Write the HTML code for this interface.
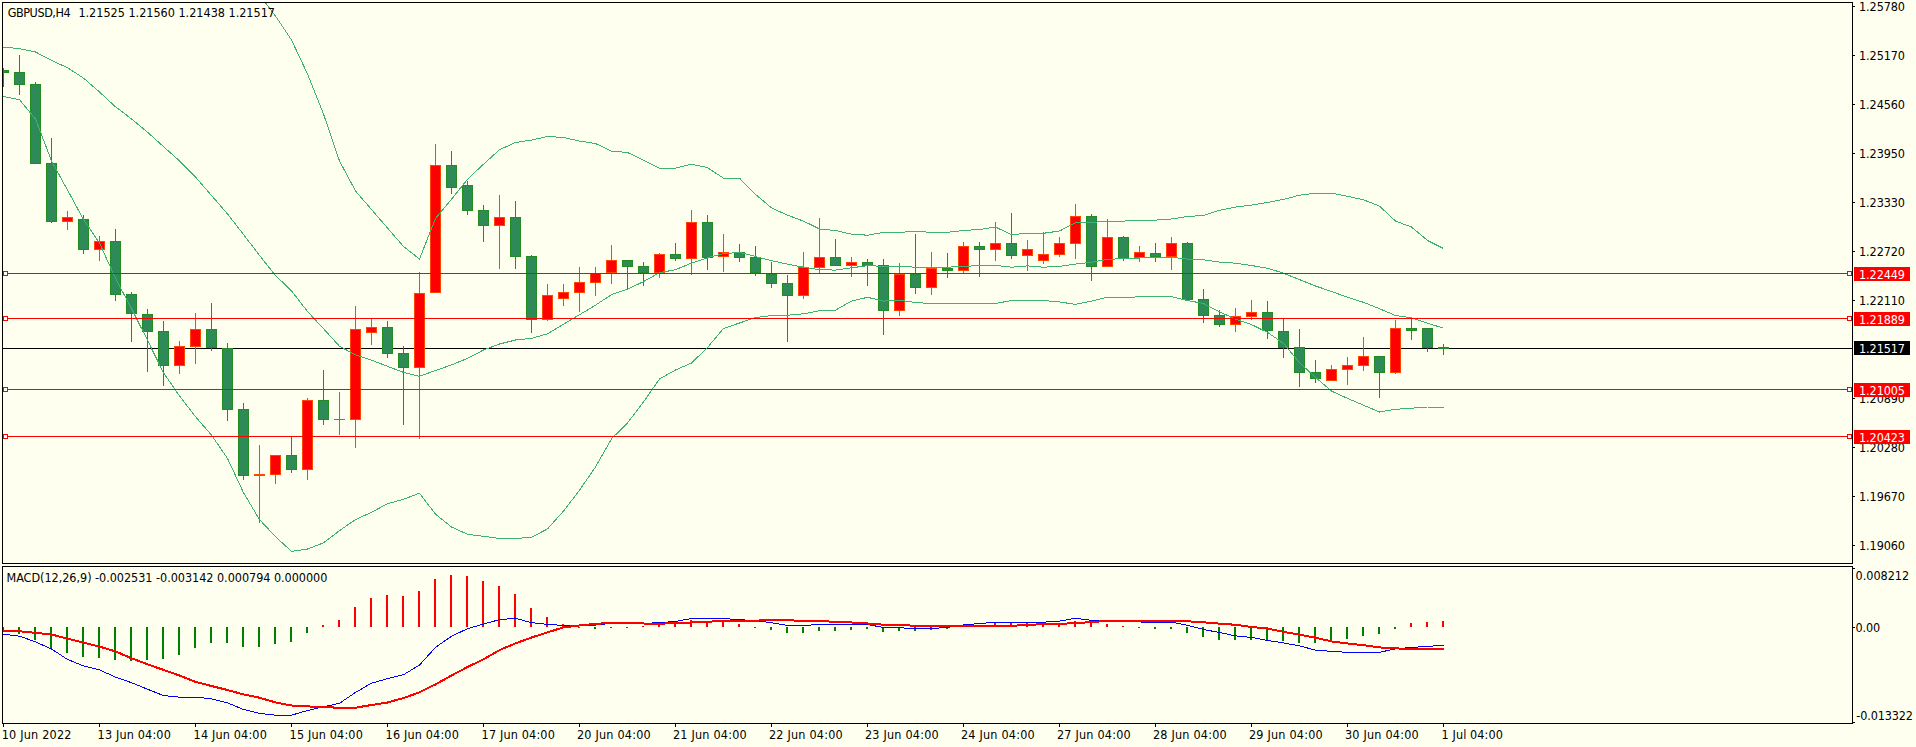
<!DOCTYPE html>
<html><head><meta charset="utf-8"><title>GBPUSD,H4</title>
<style>html,body{margin:0;padding:0;background:#FFFFF0;width:1916px;height:747px;overflow:hidden}</style>
</head><body>
<svg width="1916" height="747" viewBox="0 0 1916 747" style="display:block">
<defs><clipPath id="cm"><rect x="3" y="3" width="1849" height="560"/></clipPath><clipPath id="cd"><rect x="3" y="567" width="1849" height="156"/></clipPath></defs>
<rect x="0" y="0" width="1916" height="747" fill="#FFFFF0"/>
<rect x="3" y="348" width="1849" height="1" fill="#000000" shape-rendering="crispEdges"/>
<g clip-path="url(#cm)" shape-rendering="crispEdges">
<rect x="3" y="68" width="1" height="19" fill="#228B22"/>
<rect x="-2" y="70" width="11" height="3" fill="#228B22"/>
<rect x="-1" y="71" width="9" height="1" fill="#2E8B57"/>
<rect x="19" y="55" width="1" height="40" fill="#228B22"/>
<rect x="14" y="72" width="11" height="13" fill="#228B22"/>
<rect x="15" y="73" width="9" height="11" fill="#2E8B57"/>
<rect x="35" y="82" width="1" height="82" fill="#228B22"/>
<rect x="30" y="84" width="11" height="80" fill="#228B22"/>
<rect x="31" y="85" width="9" height="78" fill="#2E8B57"/>
<rect x="51" y="138" width="1" height="85" fill="#228B22"/>
<rect x="46" y="163" width="11" height="59" fill="#228B22"/>
<rect x="47" y="164" width="9" height="57" fill="#2E8B57"/>
<rect x="67" y="211" width="1" height="19" fill="#FF4500"/>
<rect x="62" y="217" width="11" height="5" fill="#FF4500"/>
<rect x="63" y="218" width="9" height="3" fill="#FF0000"/>
<rect x="83" y="215" width="1" height="39" fill="#228B22"/>
<rect x="78" y="219" width="11" height="31" fill="#228B22"/>
<rect x="79" y="220" width="9" height="29" fill="#2E8B57"/>
<rect x="99" y="236" width="1" height="25" fill="#FF4500"/>
<rect x="94" y="241" width="11" height="9" fill="#FF4500"/>
<rect x="95" y="242" width="9" height="7" fill="#FF0000"/>
<rect x="115" y="229" width="1" height="72" fill="#228B22"/>
<rect x="110" y="241" width="11" height="54" fill="#228B22"/>
<rect x="111" y="242" width="9" height="52" fill="#2E8B57"/>
<rect x="131" y="292" width="1" height="50" fill="#228B22"/>
<rect x="126" y="294" width="11" height="20" fill="#228B22"/>
<rect x="127" y="295" width="9" height="18" fill="#2E8B57"/>
<rect x="147" y="309" width="1" height="63" fill="#228B22"/>
<rect x="142" y="314" width="11" height="18" fill="#228B22"/>
<rect x="143" y="315" width="9" height="16" fill="#2E8B57"/>
<rect x="163" y="321" width="1" height="65" fill="#228B22"/>
<rect x="158" y="331" width="11" height="35" fill="#228B22"/>
<rect x="159" y="332" width="9" height="33" fill="#2E8B57"/>
<rect x="179" y="341" width="1" height="33" fill="#FF4500"/>
<rect x="174" y="346" width="11" height="20" fill="#FF4500"/>
<rect x="175" y="347" width="9" height="18" fill="#FF0000"/>
<rect x="195" y="313" width="1" height="51" fill="#FF4500"/>
<rect x="190" y="329" width="11" height="18" fill="#FF4500"/>
<rect x="191" y="330" width="9" height="16" fill="#FF0000"/>
<rect x="211" y="303" width="1" height="48" fill="#228B22"/>
<rect x="206" y="329" width="11" height="19" fill="#228B22"/>
<rect x="207" y="330" width="9" height="17" fill="#2E8B57"/>
<rect x="227" y="343" width="1" height="78" fill="#228B22"/>
<rect x="222" y="348" width="11" height="62" fill="#228B22"/>
<rect x="223" y="349" width="9" height="60" fill="#2E8B57"/>
<rect x="243" y="403" width="1" height="77" fill="#228B22"/>
<rect x="238" y="409" width="11" height="67" fill="#228B22"/>
<rect x="239" y="410" width="9" height="65" fill="#2E8B57"/>
<rect x="259" y="445" width="1" height="78" fill="#FF4500"/>
<rect x="254" y="474" width="11" height="2" fill="#FF4500"/>
<rect x="275" y="455" width="1" height="29" fill="#FF4500"/>
<rect x="270" y="455" width="11" height="20" fill="#FF4500"/>
<rect x="271" y="456" width="9" height="18" fill="#FF0000"/>
<rect x="291" y="437" width="1" height="36" fill="#228B22"/>
<rect x="286" y="455" width="11" height="15" fill="#228B22"/>
<rect x="287" y="456" width="9" height="13" fill="#2E8B57"/>
<rect x="307" y="398" width="1" height="82" fill="#FF4500"/>
<rect x="302" y="400" width="11" height="70" fill="#FF4500"/>
<rect x="303" y="401" width="9" height="68" fill="#FF0000"/>
<rect x="323" y="370" width="1" height="55" fill="#228B22"/>
<rect x="318" y="400" width="11" height="20" fill="#228B22"/>
<rect x="319" y="401" width="9" height="18" fill="#2E8B57"/>
<rect x="339" y="392" width="1" height="43" fill="#FF4500"/>
<rect x="334" y="419" width="11" height="1" fill="#FF4500"/>
<rect x="355" y="306" width="1" height="142" fill="#FF4500"/>
<rect x="350" y="329" width="11" height="91" fill="#FF4500"/>
<rect x="351" y="330" width="9" height="89" fill="#FF0000"/>
<rect x="371" y="319" width="1" height="26" fill="#FF4500"/>
<rect x="366" y="327" width="11" height="6" fill="#FF4500"/>
<rect x="367" y="328" width="9" height="4" fill="#FF0000"/>
<rect x="387" y="321" width="1" height="37" fill="#228B22"/>
<rect x="382" y="327" width="11" height="27" fill="#228B22"/>
<rect x="383" y="328" width="9" height="25" fill="#2E8B57"/>
<rect x="403" y="346" width="1" height="79" fill="#228B22"/>
<rect x="398" y="353" width="11" height="15" fill="#228B22"/>
<rect x="399" y="354" width="9" height="13" fill="#2E8B57"/>
<rect x="419" y="272" width="1" height="167" fill="#FF4500"/>
<rect x="414" y="293" width="11" height="75" fill="#FF4500"/>
<rect x="415" y="294" width="9" height="73" fill="#FF0000"/>
<rect x="435" y="144" width="1" height="149" fill="#FF4500"/>
<rect x="430" y="165" width="11" height="128" fill="#FF4500"/>
<rect x="431" y="166" width="9" height="126" fill="#FF0000"/>
<rect x="451" y="151" width="1" height="43" fill="#228B22"/>
<rect x="446" y="165" width="11" height="23" fill="#228B22"/>
<rect x="447" y="166" width="9" height="21" fill="#2E8B57"/>
<rect x="467" y="181" width="1" height="34" fill="#228B22"/>
<rect x="462" y="185" width="11" height="26" fill="#228B22"/>
<rect x="463" y="186" width="9" height="24" fill="#2E8B57"/>
<rect x="483" y="205" width="1" height="37" fill="#228B22"/>
<rect x="478" y="210" width="11" height="16" fill="#228B22"/>
<rect x="479" y="211" width="9" height="14" fill="#2E8B57"/>
<rect x="499" y="195" width="1" height="74" fill="#FF4500"/>
<rect x="494" y="217" width="11" height="9" fill="#FF4500"/>
<rect x="495" y="218" width="9" height="7" fill="#FF0000"/>
<rect x="515" y="201" width="1" height="68" fill="#228B22"/>
<rect x="510" y="217" width="11" height="40" fill="#228B22"/>
<rect x="511" y="218" width="9" height="38" fill="#2E8B57"/>
<rect x="531" y="255" width="1" height="78" fill="#228B22"/>
<rect x="526" y="256" width="11" height="64" fill="#228B22"/>
<rect x="527" y="257" width="9" height="62" fill="#2E8B57"/>
<rect x="547" y="284" width="1" height="37" fill="#FF4500"/>
<rect x="542" y="295" width="11" height="25" fill="#FF4500"/>
<rect x="543" y="296" width="9" height="23" fill="#FF0000"/>
<rect x="563" y="284" width="1" height="22" fill="#FF4500"/>
<rect x="558" y="292" width="11" height="7" fill="#FF4500"/>
<rect x="559" y="293" width="9" height="5" fill="#FF0000"/>
<rect x="579" y="267" width="1" height="45" fill="#FF4500"/>
<rect x="574" y="282" width="11" height="11" fill="#FF4500"/>
<rect x="575" y="283" width="9" height="9" fill="#FF0000"/>
<rect x="595" y="267" width="1" height="29" fill="#FF4500"/>
<rect x="590" y="273" width="11" height="10" fill="#FF4500"/>
<rect x="591" y="274" width="9" height="8" fill="#FF0000"/>
<rect x="611" y="245" width="1" height="39" fill="#FF4500"/>
<rect x="606" y="260" width="11" height="13" fill="#FF4500"/>
<rect x="607" y="261" width="9" height="11" fill="#FF0000"/>
<rect x="627" y="260" width="1" height="30" fill="#228B22"/>
<rect x="622" y="260" width="11" height="7" fill="#228B22"/>
<rect x="623" y="261" width="9" height="5" fill="#2E8B57"/>
<rect x="643" y="262" width="1" height="24" fill="#228B22"/>
<rect x="638" y="266" width="11" height="7" fill="#228B22"/>
<rect x="639" y="267" width="9" height="5" fill="#2E8B57"/>
<rect x="659" y="253" width="1" height="25" fill="#FF4500"/>
<rect x="654" y="254" width="11" height="19" fill="#FF4500"/>
<rect x="655" y="255" width="9" height="17" fill="#FF0000"/>
<rect x="675" y="243" width="1" height="18" fill="#228B22"/>
<rect x="670" y="254" width="11" height="5" fill="#228B22"/>
<rect x="671" y="255" width="9" height="3" fill="#2E8B57"/>
<rect x="691" y="210" width="1" height="65" fill="#FF4500"/>
<rect x="686" y="222" width="11" height="37" fill="#FF4500"/>
<rect x="687" y="223" width="9" height="35" fill="#FF0000"/>
<rect x="707" y="215" width="1" height="55" fill="#228B22"/>
<rect x="702" y="222" width="11" height="36" fill="#228B22"/>
<rect x="703" y="223" width="9" height="34" fill="#2E8B57"/>
<rect x="723" y="234" width="1" height="38" fill="#FF4500"/>
<rect x="718" y="252" width="11" height="5" fill="#FF4500"/>
<rect x="719" y="253" width="9" height="3" fill="#FF0000"/>
<rect x="739" y="244" width="1" height="18" fill="#228B22"/>
<rect x="734" y="252" width="11" height="6" fill="#228B22"/>
<rect x="735" y="253" width="9" height="4" fill="#2E8B57"/>
<rect x="755" y="246" width="1" height="30" fill="#228B22"/>
<rect x="750" y="257" width="11" height="16" fill="#228B22"/>
<rect x="751" y="258" width="9" height="14" fill="#2E8B57"/>
<rect x="771" y="262" width="1" height="26" fill="#228B22"/>
<rect x="766" y="274" width="11" height="10" fill="#228B22"/>
<rect x="767" y="275" width="9" height="8" fill="#2E8B57"/>
<rect x="787" y="275" width="1" height="67" fill="#228B22"/>
<rect x="782" y="283" width="11" height="13" fill="#228B22"/>
<rect x="783" y="284" width="9" height="11" fill="#2E8B57"/>
<rect x="803" y="252" width="1" height="47" fill="#FF4500"/>
<rect x="798" y="267" width="11" height="29" fill="#FF4500"/>
<rect x="799" y="268" width="9" height="27" fill="#FF0000"/>
<rect x="819" y="218" width="1" height="55" fill="#FF4500"/>
<rect x="814" y="257" width="11" height="11" fill="#FF4500"/>
<rect x="815" y="258" width="9" height="9" fill="#FF0000"/>
<rect x="835" y="239" width="1" height="27" fill="#228B22"/>
<rect x="830" y="257" width="11" height="9" fill="#228B22"/>
<rect x="831" y="258" width="9" height="7" fill="#2E8B57"/>
<rect x="851" y="257" width="1" height="20" fill="#FF4500"/>
<rect x="846" y="262" width="11" height="4" fill="#FF4500"/>
<rect x="847" y="263" width="9" height="2" fill="#FF0000"/>
<rect x="867" y="259" width="1" height="27" fill="#228B22"/>
<rect x="862" y="262" width="11" height="4" fill="#228B22"/>
<rect x="863" y="263" width="9" height="2" fill="#2E8B57"/>
<rect x="883" y="259" width="1" height="76" fill="#228B22"/>
<rect x="878" y="265" width="11" height="46" fill="#228B22"/>
<rect x="879" y="266" width="9" height="44" fill="#2E8B57"/>
<rect x="899" y="263" width="1" height="53" fill="#FF4500"/>
<rect x="894" y="274" width="11" height="37" fill="#FF4500"/>
<rect x="895" y="275" width="9" height="35" fill="#FF0000"/>
<rect x="915" y="234" width="1" height="60" fill="#228B22"/>
<rect x="910" y="274" width="11" height="14" fill="#228B22"/>
<rect x="911" y="275" width="9" height="12" fill="#2E8B57"/>
<rect x="931" y="252" width="1" height="43" fill="#FF4500"/>
<rect x="926" y="268" width="11" height="20" fill="#FF4500"/>
<rect x="927" y="269" width="9" height="18" fill="#FF0000"/>
<rect x="947" y="253" width="1" height="25" fill="#228B22"/>
<rect x="942" y="268" width="11" height="3" fill="#228B22"/>
<rect x="943" y="269" width="9" height="1" fill="#2E8B57"/>
<rect x="963" y="242" width="1" height="31" fill="#FF4500"/>
<rect x="958" y="246" width="11" height="25" fill="#FF4500"/>
<rect x="959" y="247" width="9" height="23" fill="#FF0000"/>
<rect x="979" y="242" width="1" height="35" fill="#228B22"/>
<rect x="974" y="246" width="11" height="4" fill="#228B22"/>
<rect x="975" y="247" width="9" height="2" fill="#2E8B57"/>
<rect x="995" y="222" width="1" height="39" fill="#FF4500"/>
<rect x="990" y="243" width="11" height="7" fill="#FF4500"/>
<rect x="991" y="244" width="9" height="5" fill="#FF0000"/>
<rect x="1011" y="213" width="1" height="46" fill="#228B22"/>
<rect x="1006" y="243" width="11" height="13" fill="#228B22"/>
<rect x="1007" y="244" width="9" height="11" fill="#2E8B57"/>
<rect x="1027" y="240" width="1" height="31" fill="#FF4500"/>
<rect x="1022" y="249" width="11" height="7" fill="#FF4500"/>
<rect x="1023" y="250" width="9" height="5" fill="#FF0000"/>
<rect x="1043" y="232" width="1" height="32" fill="#FF4500"/>
<rect x="1038" y="254" width="11" height="7" fill="#FF4500"/>
<rect x="1039" y="255" width="9" height="5" fill="#FF0000"/>
<rect x="1059" y="237" width="1" height="20" fill="#FF4500"/>
<rect x="1054" y="243" width="11" height="12" fill="#FF4500"/>
<rect x="1055" y="244" width="9" height="10" fill="#FF0000"/>
<rect x="1075" y="204" width="1" height="55" fill="#FF4500"/>
<rect x="1070" y="216" width="11" height="28" fill="#FF4500"/>
<rect x="1071" y="217" width="9" height="26" fill="#FF0000"/>
<rect x="1091" y="214" width="1" height="67" fill="#228B22"/>
<rect x="1086" y="216" width="11" height="51" fill="#228B22"/>
<rect x="1087" y="217" width="9" height="49" fill="#2E8B57"/>
<rect x="1107" y="219" width="1" height="48" fill="#FF4500"/>
<rect x="1102" y="237" width="11" height="30" fill="#FF4500"/>
<rect x="1103" y="238" width="9" height="28" fill="#FF0000"/>
<rect x="1123" y="236" width="1" height="25" fill="#228B22"/>
<rect x="1118" y="237" width="11" height="22" fill="#228B22"/>
<rect x="1119" y="238" width="9" height="20" fill="#2E8B57"/>
<rect x="1139" y="246" width="1" height="16" fill="#FF4500"/>
<rect x="1134" y="252" width="11" height="6" fill="#FF4500"/>
<rect x="1135" y="253" width="9" height="4" fill="#FF0000"/>
<rect x="1155" y="243" width="1" height="19" fill="#228B22"/>
<rect x="1150" y="253" width="11" height="4" fill="#228B22"/>
<rect x="1151" y="254" width="9" height="2" fill="#2E8B57"/>
<rect x="1171" y="237" width="1" height="33" fill="#FF4500"/>
<rect x="1166" y="243" width="11" height="14" fill="#FF4500"/>
<rect x="1167" y="244" width="9" height="12" fill="#FF0000"/>
<rect x="1187" y="242" width="1" height="59" fill="#228B22"/>
<rect x="1182" y="243" width="11" height="57" fill="#228B22"/>
<rect x="1183" y="244" width="9" height="55" fill="#2E8B57"/>
<rect x="1203" y="289" width="1" height="34" fill="#228B22"/>
<rect x="1198" y="299" width="11" height="17" fill="#228B22"/>
<rect x="1199" y="300" width="9" height="15" fill="#2E8B57"/>
<rect x="1219" y="310" width="1" height="17" fill="#228B22"/>
<rect x="1214" y="315" width="11" height="10" fill="#228B22"/>
<rect x="1215" y="316" width="9" height="8" fill="#2E8B57"/>
<rect x="1235" y="308" width="1" height="24" fill="#FF4500"/>
<rect x="1230" y="316" width="11" height="9" fill="#FF4500"/>
<rect x="1231" y="317" width="9" height="7" fill="#FF0000"/>
<rect x="1251" y="300" width="1" height="20" fill="#FF4500"/>
<rect x="1246" y="312" width="11" height="5" fill="#FF4500"/>
<rect x="1247" y="313" width="9" height="3" fill="#FF0000"/>
<rect x="1267" y="301" width="1" height="38" fill="#228B22"/>
<rect x="1262" y="312" width="11" height="19" fill="#228B22"/>
<rect x="1263" y="313" width="9" height="17" fill="#2E8B57"/>
<rect x="1283" y="319" width="1" height="39" fill="#228B22"/>
<rect x="1278" y="331" width="11" height="17" fill="#228B22"/>
<rect x="1279" y="332" width="9" height="15" fill="#2E8B57"/>
<rect x="1299" y="329" width="1" height="58" fill="#228B22"/>
<rect x="1294" y="347" width="11" height="26" fill="#228B22"/>
<rect x="1295" y="348" width="9" height="24" fill="#2E8B57"/>
<rect x="1315" y="360" width="1" height="23" fill="#228B22"/>
<rect x="1310" y="372" width="11" height="7" fill="#228B22"/>
<rect x="1311" y="373" width="9" height="5" fill="#2E8B57"/>
<rect x="1331" y="365" width="1" height="16" fill="#FF4500"/>
<rect x="1326" y="369" width="11" height="12" fill="#FF4500"/>
<rect x="1327" y="370" width="9" height="10" fill="#FF0000"/>
<rect x="1347" y="357" width="1" height="28" fill="#FF4500"/>
<rect x="1342" y="365" width="11" height="5" fill="#FF4500"/>
<rect x="1343" y="366" width="9" height="3" fill="#FF0000"/>
<rect x="1363" y="337" width="1" height="34" fill="#FF4500"/>
<rect x="1358" y="356" width="11" height="10" fill="#FF4500"/>
<rect x="1359" y="357" width="9" height="8" fill="#FF0000"/>
<rect x="1379" y="356" width="1" height="42" fill="#228B22"/>
<rect x="1374" y="356" width="11" height="17" fill="#228B22"/>
<rect x="1375" y="357" width="9" height="15" fill="#2E8B57"/>
<rect x="1395" y="320" width="1" height="54" fill="#FF4500"/>
<rect x="1390" y="328" width="11" height="45" fill="#FF4500"/>
<rect x="1391" y="329" width="9" height="43" fill="#FF0000"/>
<rect x="1411" y="319" width="1" height="21" fill="#228B22"/>
<rect x="1406" y="328" width="11" height="3" fill="#228B22"/>
<rect x="1407" y="329" width="9" height="1" fill="#2E8B57"/>
<rect x="1427" y="328" width="1" height="24" fill="#228B22"/>
<rect x="1422" y="328" width="11" height="20" fill="#228B22"/>
<rect x="1423" y="329" width="9" height="18" fill="#2E8B57"/>
<rect x="1443" y="344" width="1" height="11" fill="#228B22"/>
<rect x="1438" y="347" width="11" height="2" fill="#228B22"/>
</g>
<g clip-path="url(#cm)" shape-rendering="crispEdges">
<polyline points="259.5,-5.0 275.5,16.0 291.5,40.0 307.5,74.0 323.5,114.0 339.5,161.0 355.5,191.0 371.5,209.5 387.5,228.0 403.5,246.5 419.5,259.0 435.5,218.4 451.5,199.3 467.5,179.2 483.5,164.2 499.5,149.7 515.5,142.5 531.5,140.1 547.5,136.5 563.5,137.5 579.5,141.1 595.5,143.5 611.5,151.1 627.5,152.5 643.5,160.2 659.5,168.2 675.5,168.2 691.5,164.2 707.5,167.6 723.5,178.2 739.5,178.2 755.5,194.4 771.5,207.9 787.5,215.1 803.5,221.1 819.5,229.0 835.5,230.5 851.5,234.2 867.5,235.2 883.5,232.3 899.5,232.3 915.5,231.4 931.5,232.3 947.5,232.3 963.5,230.5 979.5,229.5 995.5,227.1 1011.5,234.6 1027.5,233.3 1043.5,233.3 1059.5,231.0 1075.5,222.8 1091.5,222.4 1107.5,221.3 1123.5,221.1 1139.5,220.3 1155.5,220.1 1171.5,219.0 1187.5,216.5 1203.5,215.5 1219.5,210.3 1235.5,207.1 1251.5,205.1 1267.5,202.5 1283.5,199.4 1299.5,195.2 1315.5,193.2 1331.5,193.2 1347.5,196.3 1363.5,199.8 1379.5,206.1 1395.5,221.1 1411.5,227.0 1427.5,240.5 1443.5,248.5" fill="none" stroke="#3CB371" stroke-width="1" />
<polyline points="3.5,47.1 19.5,48.7 35.5,52.0 51.5,60.4 67.5,67.7 83.5,78.1 99.5,92.0 115.5,106.8 131.5,118.9 147.5,132.2 163.5,146.6 179.5,160.9 195.5,177.0 211.5,195.5 227.5,213.9 243.5,234.5 259.5,255.4 275.5,275.5 291.5,290.8 307.5,311.5 323.5,328.7 339.5,346.3 355.5,354.9 371.5,360.1 387.5,366.3 403.5,372.4 419.5,376.3 435.5,370.5 451.5,364.9 467.5,358.4 483.5,350.0 499.5,344.0 515.5,340.0 531.5,338.4 547.5,333.8 563.5,324.3 579.5,314.7 595.5,305.2 611.5,294.6 627.5,289.2 643.5,281.6 659.5,272.7 675.5,269.7 691.5,263.1 707.5,257.7 723.5,253.7 739.5,252.4 755.5,256.5 771.5,260.7 787.5,264.1 803.5,267.2 819.5,269.7 835.5,270.1 851.5,267.8 867.5,265.7 883.5,266.3 899.5,266.3 915.5,267.2 931.5,267.6 947.5,267.2 963.5,266.3 979.5,265.7 995.5,265.4 1011.5,267.2 1027.5,265.9 1043.5,267.2 1059.5,266.3 1075.5,264.1 1091.5,262.2 1107.5,259.4 1123.5,258.6 1139.5,258.0 1155.5,257.3 1171.5,257.3 1187.5,259.1 1203.5,259.8 1219.5,262.1 1235.5,263.2 1251.5,265.5 1267.5,268.2 1283.5,273.2 1299.5,279.6 1315.5,286.0 1331.5,291.4 1347.5,297.3 1363.5,302.3 1379.5,308.7 1395.5,315.5 1411.5,317.8 1427.5,323.3 1443.5,328.1" fill="none" stroke="#3CB371" stroke-width="1" />
<polyline points="3.5,96.4 19.5,99.7 35.5,118.9 51.5,160.9 67.5,190.0 83.5,219.5 99.5,243.0 115.5,278.4 131.5,308.5 147.5,340.3 163.5,372.7 179.5,396.0 195.5,416.7 211.5,435.1 227.5,458.4 243.5,492.7 259.5,519.6 275.5,536.7 291.5,551.4 307.5,549.0 323.5,542.9 339.5,530.6 355.5,519.6 371.5,512.3 387.5,503.7 403.5,499.3 419.5,493.2 435.5,514.2 451.5,527.0 467.5,534.3 483.5,536.3 499.5,538.5 515.5,538.5 531.5,537.3 547.5,528.9 563.5,511.1 579.5,490.2 595.5,467.0 611.5,438.8 627.5,422.9 643.5,402.0 659.5,379.0 675.5,370.0 691.5,363.0 707.5,347.5 723.5,328.5 739.5,323.0 755.5,317.6 771.5,315.5 787.5,315.2 803.5,313.8 819.5,310.8 835.5,310.1 851.5,301.1 867.5,297.3 883.5,301.1 899.5,300.1 915.5,302.6 931.5,303.5 947.5,303.5 963.5,303.5 979.5,303.5 995.5,303.5 1011.5,300.5 1027.5,300.5 1043.5,300.5 1059.5,302.0 1075.5,304.3 1091.5,301.1 1107.5,297.2 1123.5,297.3 1139.5,296.9 1155.5,296.2 1171.5,296.7 1187.5,300.5 1203.5,303.5 1219.5,311.9 1235.5,319.0 1251.5,324.6 1267.5,332.4 1283.5,343.3 1299.5,362.7 1315.5,377.4 1331.5,391.1 1347.5,398.4 1363.5,405.2 1379.5,412.0 1395.5,409.3 1411.5,408.2 1427.5,407.0 1443.5,407.0" fill="none" stroke="#3CB371" stroke-width="1" />
</g>
<g shape-rendering="crispEdges">
<rect x="8" y="273" width="1839" height="1" fill="#FF0000"/>
<rect x="3.5" y="271.5" width="4" height="4" fill="#FFFFFF" stroke="#FF0000" stroke-width="1"/>
<rect x="1847.5" y="271.5" width="4" height="4" fill="#FFFFFF" stroke="#FF0000" stroke-width="1"/>
<rect x="8" y="318" width="1839" height="1" fill="#FF0000"/>
<rect x="3.5" y="316.5" width="4" height="4" fill="#FFFFFF" stroke="#FF0000" stroke-width="1"/>
<rect x="1847.5" y="316.5" width="4" height="4" fill="#FFFFFF" stroke="#FF0000" stroke-width="1"/>
<rect x="8" y="389" width="1839" height="1" fill="#FF0000"/>
<rect x="3.5" y="387.5" width="4" height="4" fill="#FFFFFF" stroke="#FF0000" stroke-width="1"/>
<rect x="1847.5" y="387.5" width="4" height="4" fill="#FFFFFF" stroke="#FF0000" stroke-width="1"/>
<rect x="8" y="436" width="1839" height="1" fill="#FF0000"/>
<rect x="3.5" y="434.5" width="4" height="4" fill="#FFFFFF" stroke="#FF0000" stroke-width="1"/>
<rect x="1847.5" y="434.5" width="4" height="4" fill="#FFFFFF" stroke="#FF0000" stroke-width="1"/>
</g>
<g shape-rendering="crispEdges" fill="none" stroke="#000" stroke-width="1">
<rect x="2.5" y="2.5" width="1850" height="561"/>
<rect x="2.5" y="566.5" width="1850" height="157"/>
</g>
<g clip-path="url(#cd)" shape-rendering="crispEdges">
<rect x="2" y="627" width="2" height="5" fill="#008000"/>
<rect x="18" y="627" width="2" height="7" fill="#008000"/>
<rect x="34" y="627" width="2" height="13" fill="#008000"/>
<rect x="50" y="627" width="2" height="22" fill="#008000"/>
<rect x="66" y="627" width="2" height="26" fill="#008000"/>
<rect x="82" y="627" width="2" height="30" fill="#008000"/>
<rect x="98" y="627" width="2" height="31" fill="#008000"/>
<rect x="114" y="627" width="2" height="33" fill="#008000"/>
<rect x="130" y="627" width="2" height="34" fill="#008000"/>
<rect x="146" y="627" width="2" height="33" fill="#008000"/>
<rect x="162" y="627" width="2" height="32" fill="#008000"/>
<rect x="178" y="627" width="2" height="28" fill="#008000"/>
<rect x="194" y="627" width="2" height="21" fill="#008000"/>
<rect x="210" y="627" width="2" height="16" fill="#008000"/>
<rect x="226" y="627" width="2" height="16" fill="#008000"/>
<rect x="242" y="627" width="2" height="20" fill="#008000"/>
<rect x="258" y="627" width="2" height="20" fill="#008000"/>
<rect x="274" y="627" width="2" height="17" fill="#008000"/>
<rect x="290" y="627" width="2" height="15" fill="#008000"/>
<rect x="306" y="627" width="2" height="6" fill="#008000"/>
<rect x="322" y="625" width="2" height="2" fill="#FF0000"/>
<rect x="338" y="620" width="2" height="7" fill="#FF0000"/>
<rect x="354" y="607" width="2" height="20" fill="#FF0000"/>
<rect x="370" y="598" width="2" height="29" fill="#FF0000"/>
<rect x="386" y="595" width="2" height="32" fill="#FF0000"/>
<rect x="402" y="596" width="2" height="31" fill="#FF0000"/>
<rect x="418" y="591" width="2" height="36" fill="#FF0000"/>
<rect x="434" y="579" width="2" height="48" fill="#FF0000"/>
<rect x="450" y="575" width="2" height="52" fill="#FF0000"/>
<rect x="466" y="576" width="2" height="51" fill="#FF0000"/>
<rect x="482" y="581" width="2" height="46" fill="#FF0000"/>
<rect x="498" y="586" width="2" height="41" fill="#FF0000"/>
<rect x="514" y="594" width="2" height="33" fill="#FF0000"/>
<rect x="530" y="608" width="2" height="19" fill="#FF0000"/>
<rect x="546" y="617" width="2" height="10" fill="#FF0000"/>
<rect x="562" y="624" width="2" height="3" fill="#FF0000"/>
<rect x="578" y="627" width="2" height="1" fill="#008000"/>
<rect x="594" y="627" width="2" height="2" fill="#008000"/>
<rect x="610" y="627" width="2" height="1" fill="#008000"/>
<rect x="626" y="627" width="2" height="1" fill="#008000"/>
<rect x="642" y="626" width="2" height="1" fill="#FF0000"/>
<rect x="658" y="624" width="2" height="3" fill="#FF0000"/>
<rect x="674" y="624" width="2" height="3" fill="#FF0000"/>
<rect x="690" y="620" width="2" height="7" fill="#FF0000"/>
<rect x="706" y="621" width="2" height="6" fill="#FF0000"/>
<rect x="722" y="621" width="2" height="6" fill="#FF0000"/>
<rect x="738" y="624" width="2" height="3" fill="#FF0000"/>
<rect x="754" y="627" width="2" height="1" fill="#008000"/>
<rect x="770" y="627" width="2" height="3" fill="#008000"/>
<rect x="786" y="627" width="2" height="6" fill="#008000"/>
<rect x="802" y="627" width="2" height="6" fill="#008000"/>
<rect x="818" y="627" width="2" height="4" fill="#008000"/>
<rect x="834" y="627" width="2" height="4" fill="#008000"/>
<rect x="850" y="627" width="2" height="3" fill="#008000"/>
<rect x="866" y="627" width="2" height="2" fill="#008000"/>
<rect x="882" y="627" width="2" height="5" fill="#008000"/>
<rect x="898" y="627" width="2" height="4" fill="#008000"/>
<rect x="914" y="627" width="2" height="4" fill="#008000"/>
<rect x="930" y="627" width="2" height="3" fill="#008000"/>
<rect x="946" y="627" width="2" height="2" fill="#008000"/>
<rect x="978" y="625" width="2" height="2" fill="#FF0000"/>
<rect x="994" y="622" width="2" height="5" fill="#FF0000"/>
<rect x="1010" y="622" width="2" height="5" fill="#FF0000"/>
<rect x="1026" y="622" width="2" height="5" fill="#FF0000"/>
<rect x="1042" y="624" width="2" height="3" fill="#FF0000"/>
<rect x="1058" y="625" width="2" height="2" fill="#FF0000"/>
<rect x="1074" y="621" width="2" height="6" fill="#FF0000"/>
<rect x="1090" y="622" width="2" height="5" fill="#FF0000"/>
<rect x="1106" y="624" width="2" height="3" fill="#FF0000"/>
<rect x="1122" y="626" width="2" height="1" fill="#FF0000"/>
<rect x="1138" y="627" width="2" height="1" fill="#008000"/>
<rect x="1154" y="627" width="2" height="2" fill="#008000"/>
<rect x="1170" y="627" width="2" height="2" fill="#008000"/>
<rect x="1186" y="627" width="2" height="6" fill="#008000"/>
<rect x="1202" y="627" width="2" height="10" fill="#008000"/>
<rect x="1218" y="627" width="2" height="13" fill="#008000"/>
<rect x="1234" y="627" width="2" height="13" fill="#008000"/>
<rect x="1250" y="627" width="2" height="13" fill="#008000"/>
<rect x="1266" y="627" width="2" height="13" fill="#008000"/>
<rect x="1282" y="627" width="2" height="14" fill="#008000"/>
<rect x="1298" y="627" width="2" height="16" fill="#008000"/>
<rect x="1314" y="627" width="2" height="16" fill="#008000"/>
<rect x="1330" y="627" width="2" height="14" fill="#008000"/>
<rect x="1346" y="627" width="2" height="12" fill="#008000"/>
<rect x="1362" y="627" width="2" height="9" fill="#008000"/>
<rect x="1378" y="627" width="2" height="7" fill="#008000"/>
<rect x="1394" y="627" width="2" height="2" fill="#008000"/>
<rect x="1410" y="623" width="2" height="4" fill="#FF0000"/>
<rect x="1426" y="622" width="2" height="5" fill="#FF0000"/>
<rect x="1442" y="621" width="2" height="6" fill="#FF0000"/>
<polyline points="3.5,634.2 19.5,636.2 35.5,641.8 51.5,649.0 67.5,659.4 83.5,665.9 99.5,669.9 115.5,677.1 131.5,682.7 147.5,689.2 163.5,695.6 179.5,697.2 195.5,697.2 211.5,698.8 227.5,702.8 243.5,709.5 259.5,713.3 275.5,715.2 291.5,715.2 307.5,710.5 323.5,706.8 339.5,703.3 355.5,692.4 371.5,683.2 387.5,678.7 403.5,674.7 419.5,665.1 435.5,647.4 451.5,636.2 467.5,628.7 483.5,624.1 499.5,619.6 515.5,618.4 531.5,622.6 547.5,624.4 563.5,625.4 579.5,625.4 595.5,625.1 611.5,623.2 627.5,623.2 643.5,623.4 659.5,622.7 675.5,621.4 691.5,618.6 707.5,618.6 723.5,618.6 739.5,619.6 755.5,620.7 771.5,622.7 787.5,625.4 803.5,625.4 819.5,624.6 835.5,624.6 851.5,624.6 867.5,624.6 883.5,627.4 899.5,627.8 915.5,628.5 931.5,628.5 947.5,627.4 963.5,624.9 979.5,623.5 995.5,622.2 1011.5,622.2 1027.5,622.2 1043.5,622.2 1059.5,621.1 1075.5,618.3 1091.5,620.3 1107.5,620.7 1123.5,621.5 1139.5,622.0 1155.5,622.2 1171.5,622.2 1187.5,625.3 1203.5,629.5 1219.5,632.5 1235.5,635.9 1251.5,637.4 1267.5,640.4 1283.5,642.9 1299.5,645.9 1315.5,650.1 1331.5,651.4 1347.5,652.3 1363.5,652.3 1379.5,652.3 1395.5,648.9 1411.5,647.4 1427.5,646.4 1443.5,645.2" fill="none" stroke="#0000FF" stroke-width="1" />
<polyline points="3.5,630.8 19.5,631.3 35.5,632.9 51.5,634.5 67.5,638.6 83.5,642.6 99.5,646.6 115.5,651.4 131.5,658.3 147.5,664.3 163.5,669.9 179.5,675.5 195.5,681.9 211.5,686.0 227.5,690.0 243.5,694.4 259.5,697.7 275.5,702.4 291.5,705.5 307.5,706.4 323.5,707.2 339.5,707.7 355.5,707.7 371.5,705.0 387.5,702.5 403.5,698.0 419.5,692.4 435.5,684.4 451.5,675.5 467.5,667.0 483.5,659.4 499.5,650.1 515.5,643.4 531.5,637.5 547.5,632.4 563.5,627.3 579.5,625.5 595.5,623.8 611.5,623.0 627.5,623.2 643.5,623.5 659.5,623.8 675.5,623.0 691.5,622.5 707.5,621.7 723.5,621.0 739.5,620.8 755.5,620.7 771.5,619.9 787.5,620.2 803.5,621.0 819.5,621.1 835.5,621.8 851.5,622.5 867.5,623.5 883.5,624.7 899.5,624.9 915.5,625.8 931.5,625.8 947.5,625.8 963.5,625.8 979.5,625.8 995.5,625.8 1011.5,625.8 1027.5,625.0 1043.5,624.1 1059.5,623.7 1075.5,623.3 1091.5,622.0 1107.5,621.0 1123.5,621.0 1139.5,621.0 1155.5,621.0 1171.5,620.8 1187.5,621.3 1203.5,622.3 1219.5,623.6 1235.5,624.8 1251.5,627.0 1267.5,628.5 1283.5,631.8 1299.5,634.7 1315.5,637.7 1331.5,641.4 1347.5,643.4 1363.5,645.2 1379.5,647.4 1395.5,648.4 1411.5,648.9 1427.5,648.9 1443.5,648.9" fill="none" stroke="#FF0000" stroke-width="2" />
</g>
<g shape-rendering="crispEdges">
<rect x="1853" y="6" width="2" height="1" fill="#000"/>
<rect x="1853" y="55" width="2" height="1" fill="#000"/>
<rect x="1853" y="104" width="2" height="1" fill="#000"/>
<rect x="1853" y="153" width="2" height="1" fill="#000"/>
<rect x="1853" y="202" width="2" height="1" fill="#000"/>
<rect x="1853" y="251" width="2" height="1" fill="#000"/>
<rect x="1853" y="300" width="2" height="1" fill="#000"/>
<rect x="1853" y="398" width="2" height="1" fill="#000"/>
<rect x="1853" y="447" width="2" height="1" fill="#000"/>
<rect x="1853" y="496" width="2" height="1" fill="#000"/>
<rect x="1853" y="545" width="2" height="1" fill="#000"/>
<rect x="1853" y="568" width="2" height="1" fill="#000"/>
<rect x="1853" y="627" width="2" height="1" fill="#000"/>
<rect x="1853" y="722" width="2" height="1" fill="#000"/>
<rect x="3" y="724" width="1" height="3" fill="#000"/>
<rect x="99" y="724" width="1" height="3" fill="#000"/>
<rect x="195" y="724" width="1" height="3" fill="#000"/>
<rect x="291" y="724" width="1" height="3" fill="#000"/>
<rect x="387" y="724" width="1" height="3" fill="#000"/>
<rect x="483" y="724" width="1" height="3" fill="#000"/>
<rect x="579" y="724" width="1" height="3" fill="#000"/>
<rect x="675" y="724" width="1" height="3" fill="#000"/>
<rect x="771" y="724" width="1" height="3" fill="#000"/>
<rect x="867" y="724" width="1" height="3" fill="#000"/>
<rect x="963" y="724" width="1" height="3" fill="#000"/>
<rect x="1059" y="724" width="1" height="3" fill="#000"/>
<rect x="1155" y="724" width="1" height="3" fill="#000"/>
<rect x="1251" y="724" width="1" height="3" fill="#000"/>
<rect x="1347" y="724" width="1" height="3" fill="#000"/>
<rect x="1443" y="724" width="1" height="3" fill="#000"/>
</g>
<g font-family="'DejaVu Sans Condensed', 'DejaVu Sans', sans-serif" font-size="12.5px" font-stretch="condensed">
<text x="7.65" y="17" letter-spacing="-0.419" fill="#000">GBPUSD,H4</text>
<text x="78.4" y="17" letter-spacing="-0.003" fill="#000">1.21525 1.21560 1.21438 1.21517</text>
<text x="6.5" y="582" letter-spacing="-0.03" fill="#000">MACD(12,26,9) -0.002531 -0.003142 0.000794 0.000000</text>
<text x="1859.0" y="11" letter-spacing="-0.083" fill="#000">1.25780</text>
<text x="1859.0" y="60" letter-spacing="-0.083" fill="#000">1.25170</text>
<text x="1859.0" y="109" letter-spacing="-0.083" fill="#000">1.24560</text>
<text x="1859.0" y="158" letter-spacing="-0.083" fill="#000">1.23950</text>
<text x="1859.0" y="207" letter-spacing="-0.083" fill="#000">1.23330</text>
<text x="1859.0" y="256" letter-spacing="-0.083" fill="#000">1.22720</text>
<text x="1859.0" y="305" letter-spacing="-0.083" fill="#000">1.22110</text>
<text x="1859.0" y="403" letter-spacing="-0.083" fill="#000">1.20890</text>
<text x="1859.0" y="452" letter-spacing="-0.083" fill="#000">1.20280</text>
<text x="1859.0" y="501" letter-spacing="-0.083" fill="#000">1.19670</text>
<text x="1859.0" y="550" letter-spacing="-0.083" fill="#000">1.19060</text>
<text x="1855.6" y="580" letter-spacing="-0.014" fill="#000">0.008212</text>
<text x="1855.6" y="632" letter-spacing="-0.167" fill="#000">0.00</text>
<text x="1856.2" y="720" letter-spacing="-0.113" fill="#000">-0.013322</text>
<text x="1.75" y="739" letter-spacing="0.2" fill="#000">10 Jun 2022</text>
<text x="97.6" y="739" letter-spacing="0.164" fill="#000">13 Jun 04:00</text>
<text x="193.6" y="739" letter-spacing="0.164" fill="#000">14 Jun 04:00</text>
<text x="289.6" y="739" letter-spacing="0.164" fill="#000">15 Jun 04:00</text>
<text x="385.6" y="739" letter-spacing="0.164" fill="#000">16 Jun 04:00</text>
<text x="481.6" y="739" letter-spacing="0.164" fill="#000">17 Jun 04:00</text>
<text x="576.9" y="739" letter-spacing="0.218" fill="#000">20 Jun 04:00</text>
<text x="672.9" y="739" letter-spacing="0.218" fill="#000">21 Jun 04:00</text>
<text x="768.9" y="739" letter-spacing="0.218" fill="#000">22 Jun 04:00</text>
<text x="864.9" y="739" letter-spacing="0.218" fill="#000">23 Jun 04:00</text>
<text x="960.9" y="739" letter-spacing="0.218" fill="#000">24 Jun 04:00</text>
<text x="1056.9" y="739" letter-spacing="0.218" fill="#000">27 Jun 04:00</text>
<text x="1152.9" y="739" letter-spacing="0.218" fill="#000">28 Jun 04:00</text>
<text x="1248.9" y="739" letter-spacing="0.218" fill="#000">29 Jun 04:00</text>
<text x="1344.9" y="739" letter-spacing="0.218" fill="#000">30 Jun 04:00</text>
<text x="1441.6" y="739" letter-spacing="0.1" fill="#000">1 Jul 04:00</text>
</g>
<g shape-rendering="crispEdges">
<rect x="1854" y="267" width="56" height="14" fill="#FF0000"/>
<rect x="1854" y="312" width="56" height="14" fill="#FF0000"/>
<rect x="1854" y="341" width="56" height="14" fill="#000000"/>
<rect x="1854" y="383" width="56" height="14" fill="#FF0000"/>
<rect x="1854" y="430" width="56" height="14" fill="#FF0000"/>
</g>
<g font-family="'DejaVu Sans Condensed', 'DejaVu Sans', sans-serif" font-size="12.5px" font-stretch="condensed">
<text x="1859.0" y="279" letter-spacing="-0.083" fill="#FFFFFF">1.22449</text>
<text x="1859.0" y="324" letter-spacing="-0.083" fill="#FFFFFF">1.21889</text>
<text x="1859.0" y="353" letter-spacing="-0.083" fill="#FFFFFF">1.21517</text>
<text x="1859.0" y="395" letter-spacing="-0.083" fill="#FFFFFF">1.21005</text>
<text x="1859.0" y="442" letter-spacing="-0.083" fill="#FFFFFF">1.20423</text>
</g>
</svg>
</body></html>
